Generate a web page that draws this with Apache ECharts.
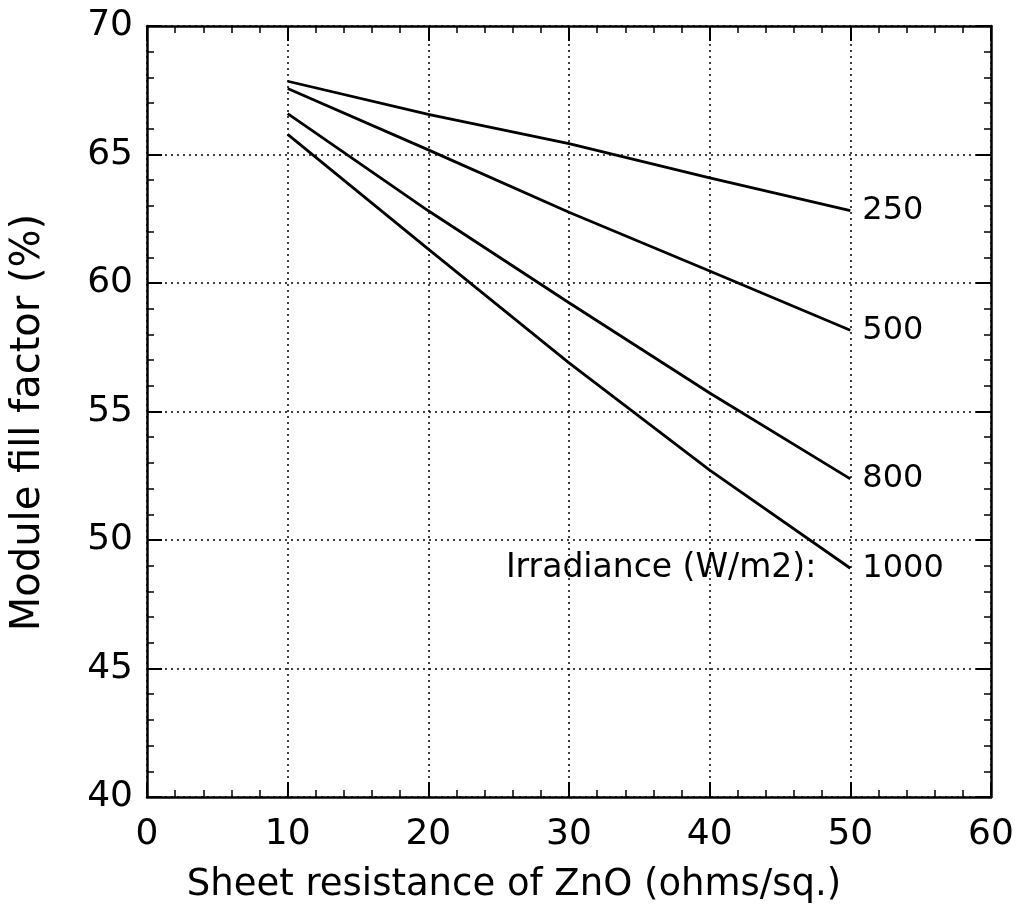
<!DOCTYPE html>
<html>
<head>
<meta charset="utf-8">
<script src="https://cdn.jsdelivr.net/npm/echarts@6/dist/echarts.min.js"></script>
<style>
  html, body { margin: 0; padding: 0; background: #fff; }
  #chart { width: 1019px; height: 920px; }
</style>
</head>
<body>
<div id="chart"></div>
<script>
  // sheet resistance (ohms/sq.)
  const resistance = [10, 20, 30, 40, 50];
  // module fill factor (%) per irradiance level
  const ff250 = [67.85, 66.56, 65.42, 64.09, 62.82];
  const ff500 = [67.57, 65.18, 62.75, 60.47, 58.16];
  const ff800 = [66.59, 62.81, 59.23, 55.72, 52.38];
  const ff1000 = [65.78, 61.32, 56.89, 52.72, 48.9];
  const seriesNames = ['250', '500', '800', '1000'];

  const font = 'DejaVu Sans';
  const black = '#000';

  function pairs(ys) {
    return resistance.map((x, i) => [x, ys[i]]);
  }

  function makeSeries(name, ys, extra) {
    const data = pairs(ys);
    const s = {
      name: name,
      type: 'line',
      data: data,
      symbol: 'none',
      silent: true,
      lineStyle: { color: black, width: 2.8 },
      endLabel: {
        show: true,
        formatter: name,
        distance: 12,
        color: black,
        fontFamily: font,
        fontSize: 32,
      },
    };
    if (extra) {
      // caption to the left of the last point
      s.markPoint = {
        symbol: 'circle',
        symbolSize: 0,
        silent: true,
        data: [{
          coord: data[data.length - 1],
          label: {
            show: true,
            position: 'left',
            distance: 34,
            formatter: extra,
            color: black,
            fontFamily: font,
            fontSize: 33,
          },
        }],
      };
    }
    return s;
  }

  const baseX = {
    type: 'value',
    min: 0,
    max: 60,
    interval: 10,
    axisLine: { show: true, onZero: false, lineStyle: { color: black, width: 2.5 } },
    axisTick: { show: true, inside: true, length: 15, lineStyle: { color: black, width: 2 } },
    minorTick: { show: true, splitNumber: 5, length: 7, lineStyle: { color: black, width: 1.5 } },
  };
  const baseY = {
    type: 'value',
    min: 40,
    max: 70,
    interval: 5,
    axisLine: { show: true, onZero: false, lineStyle: { color: black, width: 2.5 } },
    axisTick: { show: true, inside: true, length: 15, lineStyle: { color: black, width: 2 } },
    minorTick: { show: true, splitNumber: 5, length: 7, lineStyle: { color: black, width: 1.5 } },
  };

  const chart = echarts.init(document.getElementById('chart'), null, { renderer: 'canvas' });
  chart.setOption({
    animation: false,
    backgroundColor: '#fff',
    grid: { left: 147, right: 28, top: 26, bottom: 123 },
    xAxis: [
      Object.assign({}, baseX, {
        position: 'bottom',
        name: 'Sheet resistance of ZnO (ohms/sq.)',
        nameLocation: 'middle',
        nameGap: 70,
        nameTextStyle: { color: black, fontFamily: font, fontSize: 37, padding: [0, 110, 0, 0] },
        axisLabel: { color: black, fontFamily: font, fontSize: 36, margin: 20 },
        splitLine: { show: true, lineStyle: { color: black, type: [2, 4], width: 1.5 } },
      }),
      Object.assign({}, baseX, {
        position: 'top',
        axisLabel: { show: false },
        splitLine: { show: false },
      }),
    ],
    yAxis: [
      Object.assign({}, baseY, {
        position: 'left',
        name: 'Module fill factor (%)',
        nameLocation: 'middle',
        nameGap: 98,
        nameTextStyle: { color: black, fontFamily: font, fontSize: 40, padding: [0, 22, 0, 0] },
        axisLabel: { color: black, fontFamily: font, fontSize: 36, margin: 14 },
        splitLine: { show: true, lineStyle: { color: black, type: [2, 4], width: 1.5 } },
      }),
      Object.assign({}, baseY, {
        position: 'right',
        axisLabel: { show: false },
        splitLine: { show: false },
      }),
    ],
    series: [
      makeSeries(seriesNames[0], ff250),
      makeSeries(seriesNames[1], ff500),
      makeSeries(seriesNames[2], ff800),
      makeSeries(seriesNames[3], ff1000, 'Irradiance (W/m2):'),
    ],
  });
</script>
</body>
</html>
